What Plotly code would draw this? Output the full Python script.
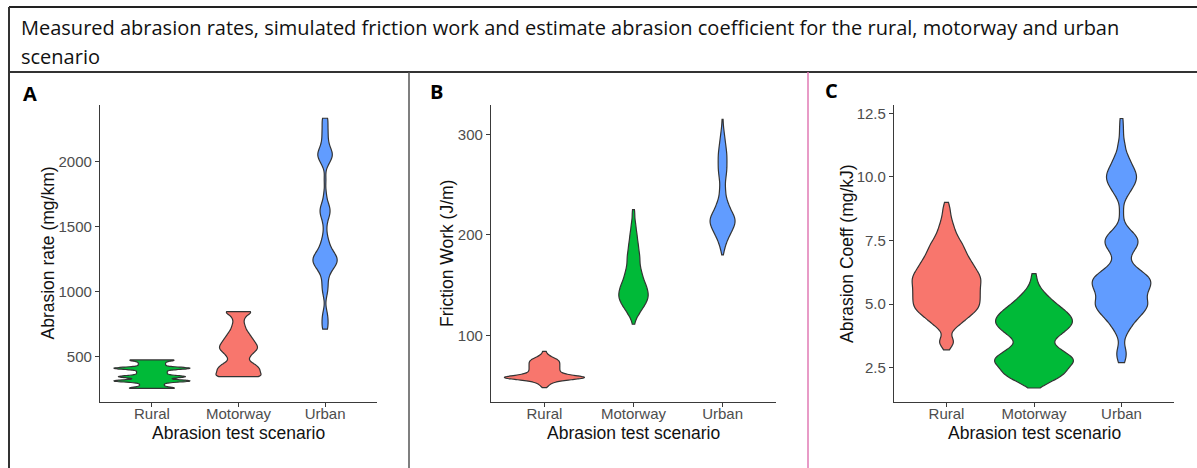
import numpy as np
import plotly.graph_objects as go

W, H = 1197, 468

scenarios = ["Rural", "Motorway", "Urban"]

# ---- Panel A: measured abrasion rate (mg/km), distinct values and how often each occurs
rate_rural_vals = [256, 265, 275, 285, 295, 304, 313, 322, 330, 338, 346, 354, 362,
                   370, 378, 386, 394, 402, 411, 420, 429, 438, 447, 456, 465, 475]
rate_rural_n = [9, 3, 3, 3, 3, 3, 15, 3, 3, 3, 12, 3, 3,
                3, 3, 3, 3, 3, 15, 3, 3, 3, 3, 3, 3, 9]
rate_motorway_vals = [346, 371, 396, 421, 446, 471, 496, 521, 546, 571, 596,
                      621, 646, 671, 696, 721, 746, 771, 796, 821, 846]
rate_motorway_n = [13, 9, 10, 9, 7, 4, 5, 6, 8, 9, 8, 7, 6, 5, 4, 3, 3, 2, 3, 3, 9]
rate_urban_vals = [711, 760, 810, 860, 960, 1010, 1060, 1110, 1160, 1210, 1260, 1310,
                   1360, 1410, 1460, 1510, 1560, 1610, 1660, 1710, 1760, 1860, 1960,
                   2010, 2060, 2110, 2160, 2210, 2260, 2310, 2334]
rate_urban_n = [2, 2, 2, 1, 1, 2, 2, 2, 4, 8, 9, 5, 3, 2, 1, 1, 2, 4, 3, 1, 1, 1, 1,
                4, 6, 3, 2, 2, 2, 1, 2]

# ---- Panel B: simulated friction work (J/m)
fw_rural_vals = [48, 50, 52, 54, 56, 58, 60, 62, 64, 66, 68, 70, 72, 74, 76, 78, 80, 82, 84]
fw_rural_n = [1, 2, 3, 5, 12, 25, 12, 8, 7, 7, 7, 7, 7, 7, 6, 4, 2, 1, 1]
fw_motorway_vals = [111, 115, 120, 125, 130, 135, 140, 145, 150, 155, 160, 165,
                    170, 175, 180, 185, 190, 195, 200, 205, 210, 215, 220, 225]
fw_motorway_n = [1, 1, 4, 6, 9, 11, 12, 11, 10, 8, 7, 6, 5, 5, 5, 4, 4, 3, 3, 2, 2, 1, 1, 1]
fw_urban_vals = [180, 185, 190, 195, 200, 205, 210, 215, 220, 225, 230, 235, 240, 245,
                 250, 255, 260, 265, 270, 275, 280, 285, 290, 295, 300, 305, 310, 315]
fw_urban_n = [1, 3, 5, 8, 12, 16, 20, 21, 18, 13, 10, 7, 5, 5,
              4, 5, 6, 7, 7, 7, 7, 6, 5, 4, 3, 2, 1, 1]

# ---- Panel C: estimated abrasion coefficient (mg/kJ)
coef_rural_vals = [3.2, 3.5, 3.75, 4.0, 4.25, 4.5, 4.75, 5.0, 5.25, 5.5, 5.75, 6.0,
                   6.25, 6.5, 6.75, 7.0, 7.25, 7.5, 7.75, 8.0, 8.25, 8.5, 8.75, 9.0]
coef_rural_n = [1, 6, 1, 3, 8, 11, 16, 17, 17, 17, 17, 18,
                16, 14, 12, 10, 9, 7, 5, 4, 3, 2, 2, 1]
coef_motorway_vals = [1.7, 1.85, 2.0, 2.25, 2.5, 2.75, 3.0, 3.25, 3.5, 3.75,
                      4.0, 4.25, 4.5, 4.75, 5.0, 5.25, 5.5, 5.75, 6.0, 6.2]
coef_motorway_n = [1, 2, 8, 15, 14, 20, 16, 11, 7, 11, 15, 18, 17, 14, 10, 7, 4, 2, 1, 1]
coef_urban_vals = [2.7, 3.0, 3.25, 3.5, 3.75, 4.0, 4.25, 4.5, 4.75, 5.0, 5.25, 5.5, 5.75,
                   6.0, 6.25, 6.5, 6.75, 7.0, 7.25, 7.5, 7.75, 8.0, 8.25, 8.5, 8.75, 9.0,
                   9.25, 9.5, 9.75, 10.0, 10.25, 10.5, 10.75, 11.0, 11.25, 11.5, 11.75,
                   12.0, 12.3]
coef_urban_n = [2, 3, 2, 1, 2, 4, 6, 9, 12, 14, 12, 13, 15,
                15, 11, 6, 4, 5, 8, 9, 7, 3, 1, 1, 1, 1,
                3, 5, 7, 8, 7, 5, 4, 2, 2, 1, 1,
                1, 1]

RED, GREEN, BLUE = "#F8766D", "#00BA38", "#619CFF"
OUTLINE = "#333333"
AXIS_FONT = "Liberation Sans, Arial, sans-serif"


def px_x(p):
    return p / W


def px_y(p):
    return 1 - p / H


panels = [
    dict(letter="A", xpx=(100, 377), yrange=[151, 2436],
         tickvals=[500, 1000, 1500, 2000], ticktext=["500", "1000", "1500", "2000"],
         ytitle="Abrasion rate (mg/km)", ytitle_x=48, letter_xy=(30, 94),
         series=[(rate_rural_vals, rate_rural_n), (rate_motorway_vals, rate_motorway_n),
                 (rate_urban_vals, rate_urban_n)],
         colors=[GREEN, RED, BLUE], bw=[8, 20, 40], widths=[0.88, 0.52, 0.28]),
    dict(letter="B", xpx=(491, 776), yrange=[33.6, 329.2],
         tickvals=[100, 200, 300], ticktext=["100", "200", "300"],
         ytitle="Friction Work (J/m)", ytitle_x=447.5, letter_xy=(436, 92),
         series=[(fw_rural_vals, fw_rural_n), (fw_motorway_vals, fw_motorway_n),
                 (fw_urban_vals, fw_urban_n)],
         colors=[RED, GREEN, BLUE], bw=[1.6, 4, 4], widths=[0.9, 0.33, 0.28]),
    dict(letter="C", xpx=(894, 1174), yrange=[1.15, 12.83],
         tickvals=[2.5, 5.0, 7.5, 10.0, 12.5], ticktext=["2.5", "5.0", "7.5", "10.0", "12.5"],
         ytitle="Abrasion Coeff (mg/kJ)", ytitle_x=847.5, letter_xy=(831, 91),
         series=[(coef_rural_vals, coef_rural_n), (coef_motorway_vals, coef_motorway_n),
                 (coef_urban_vals, coef_urban_n)],
         colors=[RED, GREEN, BLUE], bw=[0.2, 0.2, 0.2], widths=[0.785, 0.9, 0.67]),
]

PLOT_TOP, PLOT_BOTTOM = 105, 402

fig = go.Figure()
layout = dict(
    width=W, height=H, margin=dict(l=0, r=0, t=0, b=0),
    paper_bgcolor="white", plot_bgcolor="white",
    violinmode="overlay", showlegend=False,
)
annotations = []

for i, p in enumerate(panels):
    k = "" if i == 0 else str(i + 1)
    xa, ya = "x" + k, "y" + k
    for j, cat in enumerate(scenarios):
        vals, counts = p["series"][j]
        samples = np.repeat(np.asarray(vals, dtype=float), counts)
        fig.add_trace(go.Violin(
            x=[cat] * len(samples), y=samples, xaxis=xa, yaxis=ya,
            name=cat, scalegroup=f"{p['letter']}-{cat}", scalemode="width",
            width=p["widths"][j], bandwidth=p["bw"][j], spanmode="hard",
            points=False, box_visible=False, meanline_visible=False,
            fillcolor=p["colors"][j], line=dict(color=OUTLINE, width=1.2),
            opacity=1, hoverinfo="y",
        ))
    common = dict(showline=True, linecolor="#3a3a3a", linewidth=1.2,
                  ticks="outside", ticklen=4, tickwidth=1.2, tickcolor="#3a3a3a",
                  showgrid=False, zeroline=False,
                  tickfont=dict(family=AXIS_FONT, size=15, color="#4D4D4D"))
    layout["xaxis" + k] = dict(
        common, domain=[px_x(p["xpx"][0]), px_x(p["xpx"][1])], anchor=ya,
        type="category", categoryorder="array", categoryarray=scenarios,
        range=[-0.6, 2.6], ticklabelstandoff=-6)
    layout["yaxis" + k] = dict(
        common, domain=[px_y(PLOT_BOTTOM), px_y(PLOT_TOP)], anchor=xa,
        range=p["yrange"], tickvals=p["tickvals"], ticktext=p["ticktext"])
    # axis titles
    annotations.append(dict(
        text="Abrasion test scenario", xref="paper", yref="paper",
        x=px_x((p["xpx"][0] + p["xpx"][1]) / 2), y=px_y(433),
        xanchor="center", yanchor="middle", showarrow=False,
        font=dict(family=AXIS_FONT, size=17.5, color="#111111")))
    annotations.append(dict(
        text=p["ytitle"], xref="paper", yref="paper",
        x=px_x(p["ytitle_x"]), y=px_y((PLOT_TOP + PLOT_BOTTOM) / 2),
        xanchor="center", yanchor="middle", textangle=-90, showarrow=False,
        font=dict(family=AXIS_FONT, size=17.5, color="#111111")))
    # panel letter
    annotations.append(dict(
        text="<b>" + p["letter"] + "</b>", xref="paper", yref="paper",
        x=px_x(p["letter_xy"][0]), y=px_y(p["letter_xy"][1]),
        xanchor="center", yanchor="middle", showarrow=False,
        font=dict(family="Open Sans, Lato, sans-serif", size=20, color="#000000")))

# heading, two lines
TITLE_FONT = dict(family="Open Sans, Lato, sans-serif", size=20, color="#111111")
annotations.append(dict(
    text="Measured abrasion rates, simulated friction work and estimate abrasion "
         "coefficient for the rural, motorway and urban",
    xref="paper", yref="paper", x=px_x(19), y=px_y(27.5),
    xanchor="left", yanchor="middle", showarrow=False, font=TITLE_FONT))
annotations.append(dict(
    text="scenario", xref="paper", yref="paper", x=px_x(19), y=px_y(56),
    xanchor="left", yanchor="middle", showarrow=False, font=TITLE_FONT))
layout["annotations"] = annotations


def hline(ypx, x0px, x1px, color, width):
    return dict(type="line", xref="paper", yref="paper",
                x0=px_x(x0px), x1=px_x(x1px), y0=px_y(ypx), y1=px_y(ypx),
                line=dict(color=color, width=width))


def vline(xpx, y0px, y1px, color, width):
    return dict(type="line", xref="paper", yref="paper",
                x0=px_x(xpx), x1=px_x(xpx), y0=px_y(y0px), y1=px_y(y1px),
                line=dict(color=color, width=width))


layout["shapes"] = [
    hline(7, 9, W, "#222222", 2),
    hline(72, 9, W, "#333333", 2),
    vline(9, 7, H, "#333333", 2),
    vline(409, 72, H, "#555555", 1.5),
    vline(808, 72, H, "#E07AB4", 1.5),
]

fig.update_layout(**layout)
fig.write_html("out.html")
